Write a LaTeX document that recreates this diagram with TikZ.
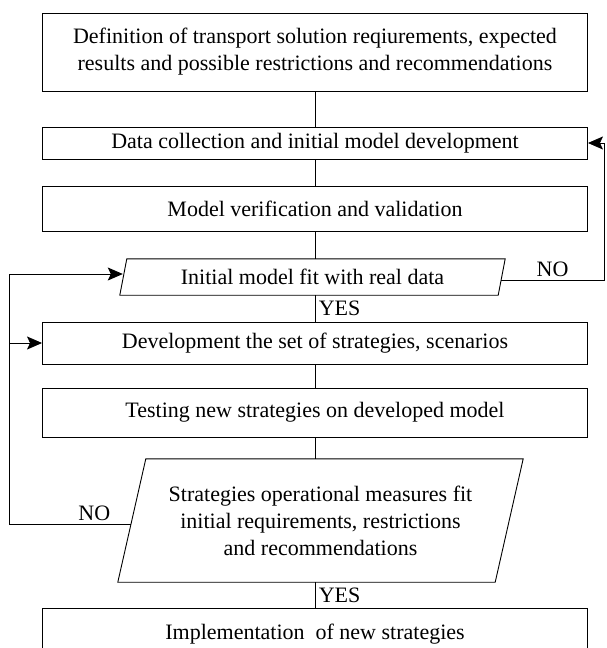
\documentclass[tikz,border=0pt]{standalone}
\usepackage{fontspec}
\setmainfont{Liberation Serif}
\usetikzlibrary{arrows.meta,calc}

\begin{document}
\begin{tikzpicture}[x=1pt,y=-1pt,
		every node/.style={font=\fontsize{22}{27}\selectfont},
		box/.style={draw,line width=0.9pt,minimum width=545pt,minimum height=43pt,align=center,inner sep=0pt},
		slanted/.style={minimum width=#1,align=center,inner sep=0pt},
		line/.style={line width=0.9pt},
		arr/.style={line width=0.9pt,-{Stealth[length=15pt,width=13pt,inset=3pt]}}]
		\useasboundingbox (0,0) rectangle (607,648);
		\clip (0,0) rectangle (607,648);
		\node[box,minimum height=78pt] (def) at (315,52) {Definition of transport solution reqiurements, expected\\results and possible restrictions and recommendations};
		\node[box,minimum height=32pt] (data) at (315,143) {Data collection and initial model development};
		\node[box,minimum height=45pt] (verif) at (315,208.5) {Model verification and validation};
		\node[slanted=385pt,minimum height=36pt] (fit) at (312.5,277) {Initial model fit with real data};
		\node[box,minimum height=42pt] (dev) at (315,343) {Development the set of strategies, scenarios};
		\node[box,minimum height=49pt] (test) at (315,412.5) {Testing new strategies on developed model};
		\node[slanted=405pt,minimum height=123pt] (meas) at (320.5,520.5) {Strategies operational measures fit\\initial requirements, restrictions\\and recommendations};
		\node[box,minimum height=52pt] (impl) at (315,634) {Implementation\ \ of new strategies};
		% decision shapes
		\draw[line] ($(fit.north west)+(7,0)$) -- (fit.north east) -- ($(fit.south east)+(-7,0)$) -- (fit.south west) -- cycle;
		\draw[line] ($(meas.north west)+(28,0)$) -- (meas.north east) -- ($(meas.south east)+(-28,0)$) -- (meas.south west) -- cycle;
		\coordinate (fitL) at ($(fit.west)+(3,-3)$);
		\coordinate (fitR) at ($(fit.east)+(-4,3)$);
		\coordinate (measL) at ($(meas.west)+(13,3.5)$);
		\coordinate (rr) at (604,0);
		\coordinate (ll) at (9,0);
		% main flow
		\draw[line] (def) -- (data);
		\draw[line] (data) -- (verif);
		\draw[line] (verif.south) -- (verif.south |- fit.north);
		\draw[line] (verif.south |- fit.south) -- (dev.north) node[midway,right]{YES};
		\draw[line] (dev) -- (test);
		\draw[line] (test.south) -- (test.south |- meas.north);
		\draw[line] (test.south |- meas.south) -- (impl.north) node[midway,right]{YES};
		% loops
		\draw[arr] (fitR) -- (fitR -| rr) node[midway,above]{NO} |- (data.east);
		\draw[line] (measL) -- (measL -| ll) node[pos=0.3,above]{NO};
		\draw[arr] (measL -| ll) |- (fitL);
		\draw[arr] (dev.west -| ll) -- (dev.west);
\end{tikzpicture}
\end{document}
